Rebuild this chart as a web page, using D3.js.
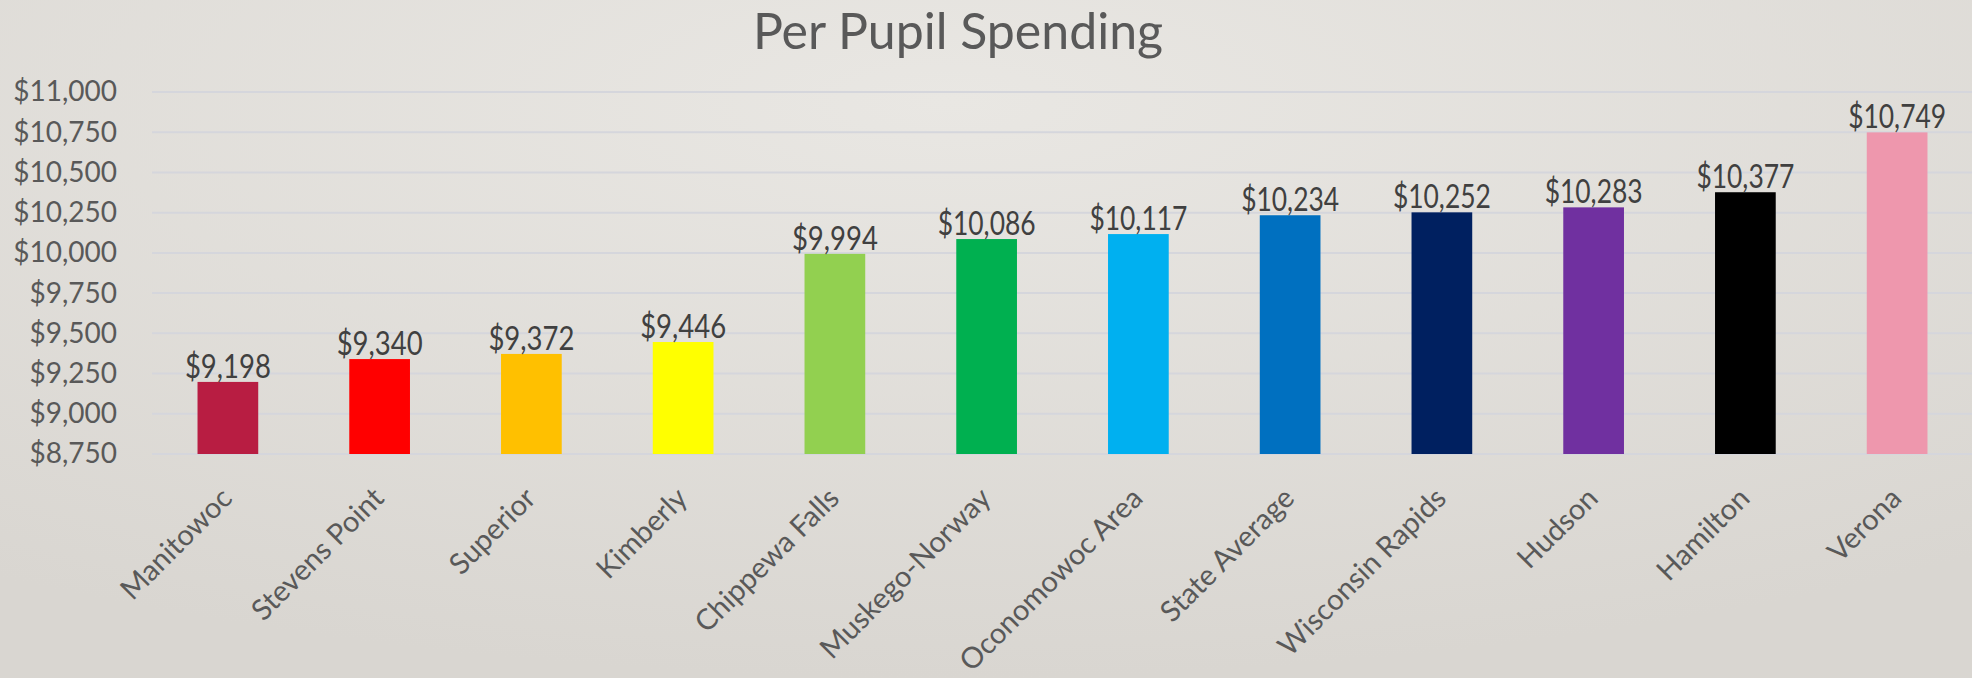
<!DOCTYPE html>
<html>
<head>
<meta charset="utf-8">
<script src="https://d3js.org/d3.v7.min.js"></script>
<style>
  body { margin: 0; overflow: hidden; }
  svg { display: block; font-family: Lato, "Open Sans", sans-serif; }
</style>
</head>
<body>
<svg class="chart" width="1972" height="678"></svg>
<script>
// data
var districts = ["Manitowoc", "Stevens Point", "Superior", "Kimberly", "Chippewa Falls", "Muskego-Norway",
  "Oconomowoc Area", "State Average", "Wisconsin Rapids", "Hudson", "Hamilton", "Verona"]
var spending = [9198, 9340, 9372, 9446, 9994, 10086, 10117, 10234, 10252, 10283, 10377, 10749]
var barColors = ["#B81D42", "#FF0000", "#FFC000", "#FFFF00", "#92D050", "#00B050",
  "#00B0F0", "#0070C0", "#002060", "#7030A0", "#000000", "#EE97AD"]
var yTicks = [8750, 9000, 9250, 9500, 9750, 10000, 10250, 10500, 10750, 11000]

var svg = d3.select(".chart")
var W = 1972, H = 678

// background
var defs = svg.append("defs")
var bg = defs.append("radialGradient").attr("id", "bg")
  .attr("cx", "48%").attr("cy", "15%").attr("r", "85%")
bg.append("stop").attr("offset", "0%").attr("stop-color", "#E9E7E3")
bg.append("stop").attr("offset", "100%").attr("stop-color", "#D9D6D1")
svg.append("rect").attr("width", W).attr("height", H).attr("fill", "url(#bg)")

var xScale = d3.scaleBand().domain(districts).range([152, 1973]).paddingInner(0.6).paddingOuter(0.3)
var yScale = d3.scaleLinear().domain([8750, 11000]).range([454, 92])
var money = function(d) { return "$" + d3.format(",")(d) }

// title
svg.append("text").attr("x", 958).attr("y", 49).attr("text-anchor", "middle")
  .attr("font-size", 50).attr("fill", "#595959").text("Per Pupil Spending")

// gridlines
svg.append("g").selectAll("line").data(yTicks).enter().append("line")
  .attr("x1", 152).attr("x2", W)
  .attr("y1", function(d) { return yScale(d) }).attr("y2", function(d) { return yScale(d) })
  .attr("stroke", "#D5D6DC").attr("stroke-width", 2)

// y axis
var yAxis = svg.append("g").attr("transform", "translate(117,0)")
  .call(d3.axisLeft(yScale).tickValues(yTicks).tickFormat(money).tickSize(0).tickPadding(0))
yAxis.select(".domain").remove()
yAxis.selectAll("text").attr("font-size", 28).attr("fill", "#595959").attr("font-family", "Lato")

// bars
svg.append("g").selectAll("rect").data(spending).enter().append("rect")
  .attr("x", function(d, i) { return xScale(districts[i]) })
  .attr("width", xScale.bandwidth())
  .attr("y", function(d) { return yScale(d) })
  .attr("height", function(d) { return yScale(8750) - yScale(d) })
  .attr("fill", function(d, i) { return barColors[i] })

// value labels
svg.append("g").selectAll("text").data(spending).enter().append("text")
  .attr("x", function(d, i) { return xScale(districts[i]) + xScale.bandwidth() / 2 })
  .attr("y", function(d) { return yScale(d) - 4 })
  .attr("text-anchor", "middle").attr("font-size", 32).attr("fill", "#404040")
  .attr("textLength", function(d) { return d >= 10000 ? 98 : 86 }).attr("lengthAdjust", "spacingAndGlyphs")
  .text(money)

// category labels
var xAxis = svg.append("g").attr("transform", "translate(0,454)")
  .call(d3.axisBottom(xScale).tickSize(0).tickPadding(0))
xAxis.select(".domain").remove()
xAxis.selectAll("text").attr("font-size", 29).attr("fill", "#595959").attr("font-family", "Lato")
  .style("text-anchor", "end").attr("dy", 0).attr("y", 0)
  .attr("transform", "translate(6,46) rotate(-45)")
</script>
</body>
</html>
